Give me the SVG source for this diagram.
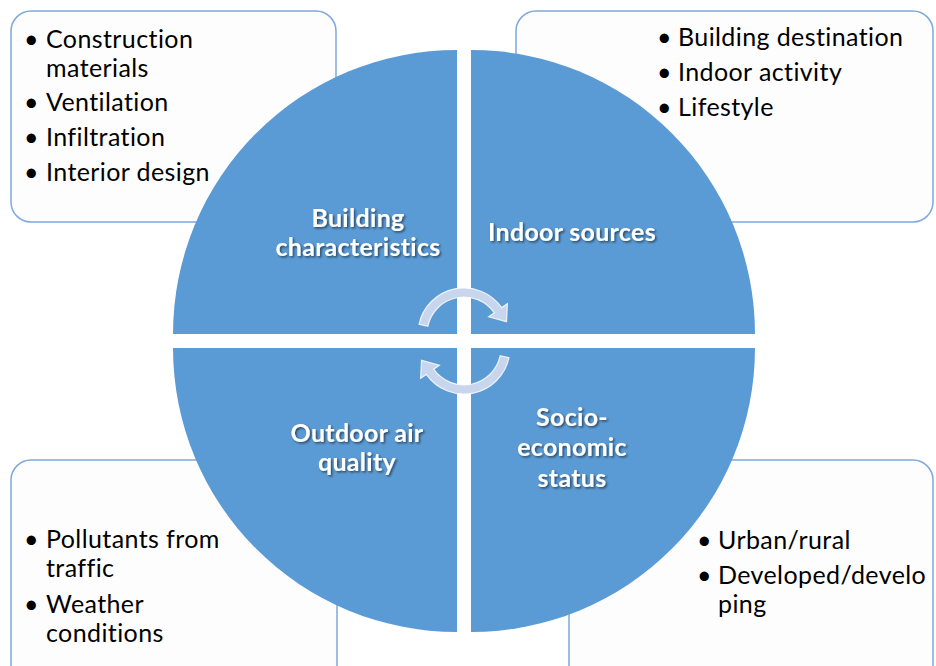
<svg xmlns="http://www.w3.org/2000/svg" width="936" height="666" viewBox="0 0 936 666">
  <defs>
    <style>
      .box { fill: #fdfdfd; stroke: #7fa8dc; stroke-width: 1.5; }
      .quad { fill: #5b9bd5; }
      .item { font-family: Lato, "Liberation Sans", sans-serif; font-size: 25px; letter-spacing: 0.4px; fill: #000; }
      .label { font-family: Lato, "Liberation Sans", sans-serif; font-size: 25px; letter-spacing: 0.3px; font-weight: bold; fill: #fff; text-anchor: middle; filter: url(#shadow); }
      .cyc { fill: #c7d6ec; stroke: #ffffff; stroke-width: 1.2; stroke-opacity: 0.8; }
    </style>
    <filter id="shadow" x="-10%" y="-30%" width="130%" height="170%">
      <feDropShadow dx="1.5" dy="1.5" stdDeviation="1" flood-color="#000" flood-opacity="0.55"/>
    </filter>
    <!-- curved arrow turning clockwise around the centre -->
    <path id="arc-arrow" d="M419,324.4 A46,46 0 0 1 501.7,307.6 L507.4,303.6 L506.5,321.7 L488.6,316.8 L494.3,312.8 A37,37 0 0 0 427.8,326.3 Z"/>
  </defs>

  <rect width="936" height="666" fill="#ffffff"/>

  <!-- detail boxes behind the wheel -->
  <g id="box-building">
    <rect class="box" x="11" y="11" width="325" height="211" rx="20"/>
    <text class="item">
      <tspan x="24" y="48">•</tspan><tspan x="46" y="48">Construction</tspan>
      <tspan x="46" y="77">materials</tspan>
      <tspan x="24" y="111">•</tspan><tspan x="46" y="111">Ventilation</tspan>
      <tspan x="24" y="146">•</tspan><tspan x="46" y="146">Infiltration</tspan>
      <tspan x="24" y="181">•</tspan><tspan x="46" y="181">Interior design</tspan>
    </text>
  </g>
  <g id="box-indoor">
    <rect class="box" x="516" y="11" width="417" height="211" rx="20"/>
    <text class="item">
      <tspan x="657" y="46">•</tspan><tspan x="678" y="46">Building destination</tspan>
      <tspan x="657" y="81">•</tspan><tspan x="678" y="81">Indoor activity</tspan>
      <tspan x="657" y="116">•</tspan><tspan x="678" y="116">Lifestyle</tspan>
    </text>
  </g>
  <g id="box-outdoor">
    <rect class="box" x="11" y="460" width="326" height="230" rx="20"/>
    <text class="item">
      <tspan x="24" y="548">•</tspan><tspan x="46" y="548">Pollutants from</tspan>
      <tspan x="46" y="577">traffic</tspan>
      <tspan x="24" y="613">•</tspan><tspan x="46" y="613">Weather</tspan>
      <tspan x="46" y="642">conditions</tspan>
    </text>
  </g>
  <g id="box-socio">
    <rect class="box" x="569" y="460" width="364" height="230" rx="20"/>
    <text class="item">
      <tspan x="697" y="549">•</tspan><tspan x="718" y="549">Urban/rural</tspan>
      <tspan x="697" y="584">•</tspan><tspan x="718" y="584">Developed/develo</tspan>
      <tspan x="718" y="613">ping</tspan>
    </text>
  </g>

  <!-- four quadrants of the wheel -->
  <g id="building-characteristics">
    <path class="quad" d="M457,334 L173,334 A284,284 0 0 1 457,50 Z"/>
    <text class="label"><tspan x="358" y="227">Building</tspan><tspan x="358" y="256">characteristics</tspan></text>
  </g>
  <g id="indoor-sources">
    <path class="quad" d="M471,334 L471,50 A284,284 0 0 1 755,334 Z"/>
    <text class="label" x="572" y="241">Indoor sources</text>
  </g>
  <g id="outdoor-air-quality">
    <path class="quad" d="M457,348 L457,632 A284,284 0 0 1 173,348 Z"/>
    <text class="label"><tspan x="357" y="442">Outdoor air</tspan><tspan x="357" y="471">quality</tspan></text>
  </g>
  <g id="socio-economic-status">
    <path class="quad" d="M471,348 L755,348 A284,284 0 0 1 471,632 Z"/>
    <text class="label"><tspan x="572" y="426">Socio-</tspan><tspan x="572" y="456">economic</tspan><tspan x="572" y="487">status</tspan></text>
  </g>

  <!-- cycle arrows in the centre -->
  <g id="connectors">
    <use href="#arc-arrow" class="cyc"/>
    <use href="#arc-arrow" class="cyc" transform="rotate(180 464 341)"/>
  </g>
</svg>
